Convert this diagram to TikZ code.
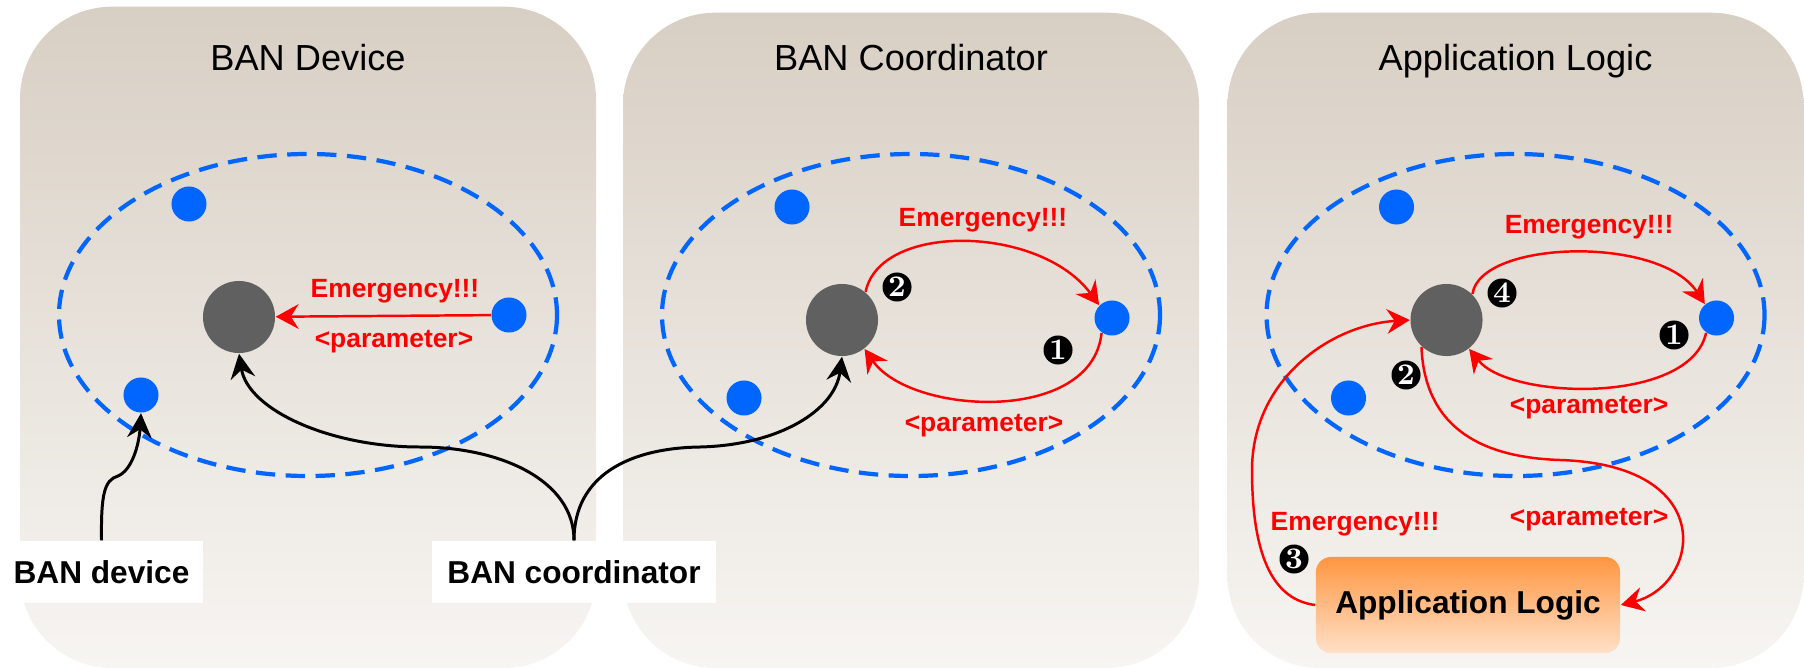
\documentclass[tikz,border=0pt]{standalone}
\usepackage{fontspec}
\newfontfamily\helv{Liberation Sans}
\usetikzlibrary{arrows.meta}

\definecolor{panelTop}{RGB}{216,207,196}
\definecolor{panelBottom}{RGB}{247,245,242}
\definecolor{banBlue}{RGB}{0,102,255}
\definecolor{hubGray}{RGB}{96,96,96}
\definecolor{appTop}{RGB}{255,150,65}
\definecolor{appBottom}{RGB}{255,224,200}

\tikzset{
  panel/.style={top color=panelTop, bottom color=panelBottom, rounded corners=0.92cm},
  banrange/.style={draw=banBlue, line width=1.2pt, dash pattern=on 5.5pt off 3pt},
  hubnode/.style={circle, fill=hubGray, minimum size=0.72cm, inner sep=0},
  dotnode/.style={circle, fill=banBlue, minimum size=0.35cm, inner sep=0},
  msg/.style={text=red, font=\helv\bfseries\fontsize{7.5}{9}\selectfont, inner sep=0},
  flow/.style={draw=red, line width=0.7pt, -{Stealth[length=6.5pt,width=7pt,inset=2.2pt]}},
  link/.style={draw=black, line width=0.85pt, -{Stealth[length=7pt,width=7pt,inset=2.4pt]}},
  badge/.style={circle, fill=black, text=white, minimum size=0.29cm, inner sep=0, font=\bfseries\fontsize{8.5}{8.5}\selectfont},
  tag/.style={fill=white, minimum height=0.62cm, inner sep=0, font=\helv\bfseries\fontsize{9}{11}\selectfont},
  appbox/.style={top color=appTop, bottom color=appBottom, rounded corners=0.15cm, minimum width=3.04cm, minimum height=0.96cm, inner sep=0, font=\helv\bfseries\fontsize{9}{11}\selectfont},
}

\begin{document}
\begin{tikzpicture}[x=0.01cm, y=-0.01cm]
    \useasboundingbox (0,0) rectangle (1804,667);
    % the three panels with their BAN
    \foreach \i/\cx/\dy/\heading in {1/308/-3/BAN Device, 2/911/0/BAN Coordinator, 3/1515.5/0/Application Logic} {
        \shade[panel] ({\cx-288},{12.7+2*\dy}) rectangle ({\cx+288},668);
        \node[font=\helv\fontsize{10.3}{12}\selectfont, anchor=base] (title\i) at (\cx,71) {\heading};
        \draw[banrange] (\cx,315) ellipse [x radius=249, y radius=161];
        \node[hubnode] (hub\i) at ({\cx-69},{320+\dy}) {};
        \node[dotnode] (top\i) at ({\cx-119},{207+\dy}) {};
        \node[dotnode] (sensor\i) at ({\cx+201},{318+\dy}) {};
        \node[dotnode] (low\i) at ({\cx-167},{398+\dy}) {};
    }
    % BAN device
    \draw[flow] (sensor1) -- (hub1);
    \node[msg, anchor=base] (emerg1) at (395,297) {Emergency!!!};
    \node[msg, anchor=base] (param1) at (394,347) {<parameter>};
    % BAN coordinator
    \draw[flow] (hub2.50) .. controls (880,222) and (1040,225) .. (sensor2.135);
    \draw[flow] (sensor2.235) .. controls (1092,425) and (910,415) .. (hub2.-52);
    \node[msg, anchor=base] (emerg2) at (983,226) {Emergency!!!};
    \node[msg, anchor=base] (param2) at (984,431) {<parameter>};
    \node[badge] (stepb2) at (897,287) {2};
    \node[badge] (stepa2) at (1058,350) {1};
    % application logic
    \draw[flow] (hub3.45) .. controls (1480,240) and (1660,235) .. (sensor3.130);
    \draw[flow] (sensor3.235) .. controls (1690,405) and (1510,400) .. (hub3.-52);
    \node[msg, anchor=base] (emerg3) at (1589,233) {Emergency!!!};
    \node[msg, anchor=base] (param3) at (1589,413) {<parameter>};
    \node[appbox] (app) at (1468,605) {Application Logic};
    \draw[flow] (hub3.-133) .. controls (1425,440) and (1500,458) .. (1560,460) .. controls (1720,465) and (1700,585) .. (app.east);
    \draw[flow] (app.west) .. controls (1275,600) and (1252,560) .. (1252,470) .. controls (1252,380) and (1330,325) .. (hub3.west);
    \node[msg, anchor=base] (emerg4) at (1355,530) {Emergency!!!};
    \node[msg, anchor=base] (param4) at (1589,525) {<parameter>};
    \node[badge] (stepa3) at (1674,335) {1};
    \node[badge] (stepb3) at (1406,375) {2};
    \node[badge] (stepc3) at (1294,559) {3};
    \node[badge] (stepd3) at (1502,293) {4};
    % labels below
    \node[tag, minimum width=2.03cm] (devtag) at (101.5,572) {BAN device};
    \node[tag, minimum width=2.84cm] (coordtag) at (574,572) {BAN coordinator};
    \draw[link] (devtag.north) .. controls (101,495) and (104,480) .. (118,476) .. controls (132,470) and (139,445) .. (low1.south);
    \draw[link] (coordtag.north) .. controls (574,480) and (500,447) .. (420,447) .. controls (330,447) and (248,410) .. (hub1.south);
    \draw[link] (coordtag.north) .. controls (574,475) and (630,448) .. (700,447) .. controls (780,445) and (835,410) .. (hub2.south);
\end{tikzpicture}
\end{document}
